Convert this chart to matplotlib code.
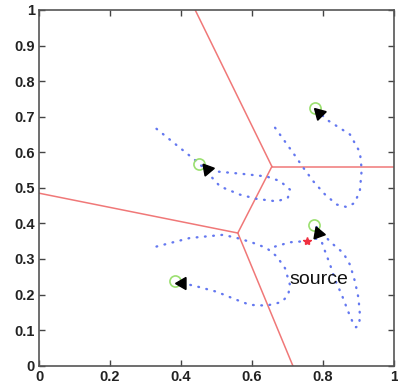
import matplotlib
matplotlib.use("Agg")
import matplotlib.pyplot as plt

plt.rcParams['font.family'] = ['Liberation Sans', 'DejaVu Sans']

# Voronoi boundary segments (x0, y0, x1, y1)
voronoi_x0 = [0.44, 0.656, 0.656, 0.0, 0.56]
voronoi_y0 = [1.0, 0.56, 0.56, 0.485, 0.373]
voronoi_x1 = [0.656, 1.0, 0.56, 0.56, 0.715]
voronoi_y1 = [0.56, 0.56, 0.373, 0.373, 0.0]

# Agent trajectories
path1_x = [0.665, 0.716, 0.745, 0.773, 0.806, 0.839, 0.867, 0.89, 0.904, 0.909, 0.904, 0.876, 0.81, 0.777]
path1_y = [0.669, 0.598, 0.556, 0.518, 0.481, 0.453, 0.446, 0.458, 0.494, 0.551, 0.6, 0.65, 0.692, 0.725]

path2_x = [0.331, 0.452, 0.51, 0.566, 0.613, 0.67, 0.701, 0.707, 0.679, 0.641, 0.566, 0.5, 0.452]
path2_y = [0.666, 0.568, 0.504, 0.481, 0.469, 0.462, 0.472, 0.495, 0.519, 0.532, 0.54, 0.546, 0.568]

path3_x = [0.665, 0.707, 0.735, 0.757, 0.78, 0.796, 0.806, 0.82, 0.834, 0.853, 0.871, 0.885, 0.893,
           0.902, 0.904, 0.9, 0.89, 0.876, 0.857, 0.824, 0.795, 0.776]
path3_y = [0.335, 0.347, 0.349, 0.352, 0.357, 0.349, 0.321, 0.284, 0.241, 0.199, 0.152, 0.119, 0.108,
           0.115, 0.143, 0.19, 0.237, 0.284, 0.317, 0.345, 0.375, 0.396]

path4_x = [0.331, 0.425, 0.519, 0.566, 0.604, 0.641, 0.67, 0.693, 0.707, 0.702, 0.684, 0.641, 0.594,
           0.557, 0.5, 0.444, 0.383]
path4_y = [0.335, 0.359, 0.368, 0.357, 0.345, 0.331, 0.307, 0.274, 0.227, 0.199, 0.179, 0.169, 0.171,
           0.185, 0.208, 0.223, 0.237]

paths_x = [path1_x, path2_x, path3_x, path4_x]
paths_y = [path1_y, path2_y, path3_y, path4_y]

# Agent positions (green circles) and heading arrowheads
agent_x = [0.777, 0.452, 0.776, 0.383]
agent_y = [0.725, 0.568, 0.396, 0.237]
head_x = [0.79, 0.472, 0.787, 0.402]
head_y = [0.711, 0.553, 0.373, 0.232]
head_angle = [45, 40, -100, 90]

source_x = [0.755]
source_y = [0.350]
source_label = "source"
label_x, label_y = 0.787, 0.241

xticks = [0, 0.2, 0.4, 0.6, 0.8, 1]
xticklabels = ['0', '0.2', '0.4', '0.6', '0.8', '1']
yticks = [0, 0.1, 0.2, 0.3, 0.4, 0.5, 0.6, 0.7, 0.8, 0.9, 1]
yticklabels = ['0', '0.1', '0.2', '0.3', '0.4', '0.5', '0.6', '0.7', '0.8', '0.9', '1']

fig = plt.figure(figsize=(3.98, 3.89), dpi=100)
ax = fig.add_axes([39/398, (389-365.7)/389, 355/398, 355.7/389])

for x0, y0, x1, y1 in zip(voronoi_x0, voronoi_y0, voronoi_x1, voronoi_y1):
    ax.plot([x0, x1], [y0, y1], color='#f07878', lw=1.1, zorder=2)

for px, py in zip(paths_x, paths_y):
    ax.plot(px, py, color='#6478f0', lw=1.7, linestyle=(0, (0.3, 3.2)),
            dash_capstyle='round', zorder=3)

ax.plot(agent_x, agent_y, 'o', mfc='none', mec='#9be070', mew=1.2, ms=8, zorder=4)
for hx, hy, ang in zip(head_x, head_y, head_angle):
    ax.plot([hx], [hy], marker=(3, 0, ang), color='black', ms=10, zorder=5, lw=0)

ax.plot(source_x, source_y, '*', color='#f03040', ms=6, zorder=5)
ax.text(label_x, label_y, source_label, ha='center', va='center', fontsize=14, color='#111111')

ax.set_xlim(0, 1)
ax.set_ylim(0, 1)
ax.set_xticks(xticks)
ax.set_xticklabels(xticklabels)
ax.set_yticks(yticks)
ax.set_yticklabels(yticklabels)
ax.tick_params(direction='in', top=True, right=True, length=4, width=1, color='#444444',
               labelsize=10.5, pad=3)
for lab in ax.get_xticklabels() + ax.get_yticklabels():
    lab.set_fontweight('bold')
    lab.set_color('#222222')
for s in ax.spines.values():
    s.set_color('#555555')
    s.set_linewidth(1.2)

fig.savefig('out.png', dpi=100)
